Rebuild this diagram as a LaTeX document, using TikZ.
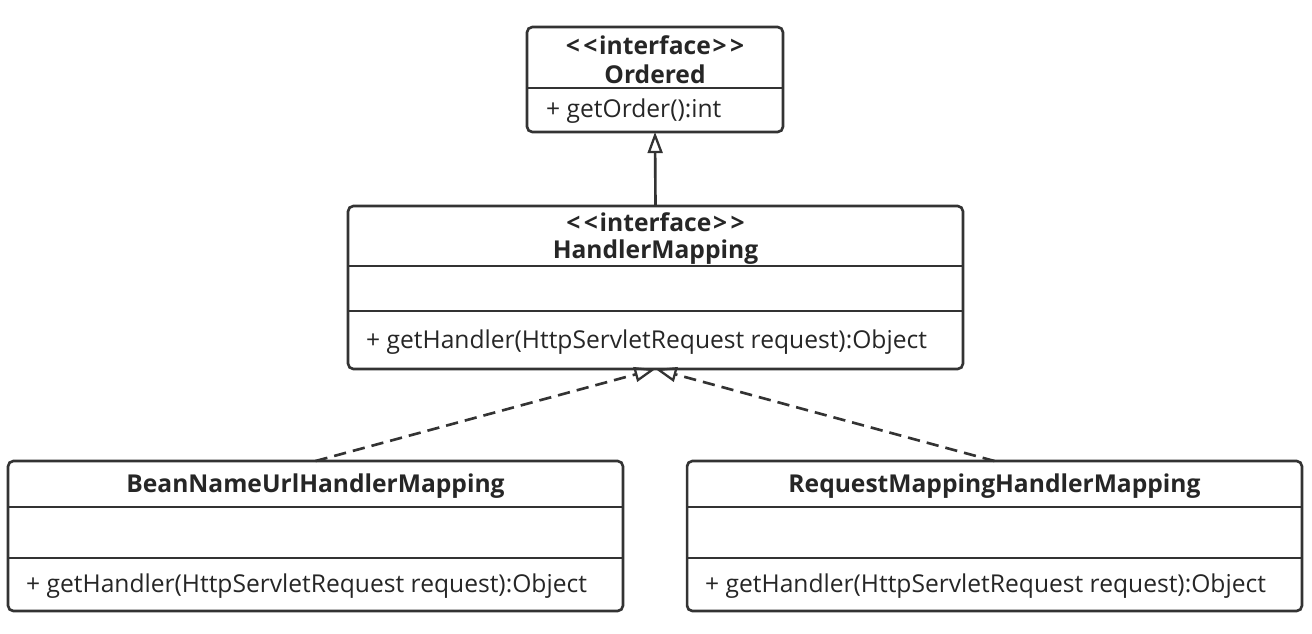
\documentclass[tikz,border=0pt]{standalone}
\usepackage{fontspec}
\setmainfont{Open Sans}
\usepackage{xcolor}
\usetikzlibrary{arrows.meta,calc}
\definecolor{edge}{HTML}{333333}
\definecolor{ink}{HTML}{262626}
\tikzset{
  cls/.style={draw=edge, line width=1.5pt, rounded corners=3pt, inner sep=0pt, outer sep=0pt, fill=white},
  sep/.style={draw=edge, line width=1.5pt},
  extends/.style={draw=edge, line width=1.5pt, -{Triangle[open, length=12pt, width=8.5pt, line width=1.3pt]}},
  realizes/.style={extends, dash pattern=on 7pt off 4pt},
  ttl/.style={text=ink, font=\fontsize{14}{17}\selectfont\bfseries},
  mth/.style={text=ink, font=\fontsize{14}{17}\selectfont, anchor=west}
}
\begin{document}
\begin{tikzpicture}[x=0.02cm, y=-0.02cm]
  \useasboundingbox (0,0) rectangle (1312,633);

  % class boxes
  \node[cls, minimum width=5.12cm, minimum height=2.1cm] (ord) at (655,79.5) {};
  \node[cls, minimum width=12.3cm, minimum height=3.26cm] (hm) at (655.5,287.5) {};
  \node[cls, minimum width=12.3cm, minimum height=3.0cm] (bean) at (315.5,536) {};
  \node[cls, minimum width=12.3cm, minimum height=3.0cm] (req) at (994.5,536) {};

  % compartments
  \draw[sep] (ord.west |- 0,88) -- (ord.east |- 0,88);
  \draw[sep] (hm.west |- 0,266) -- (hm.east |- 0,266);
  \draw[sep] (hm.west |- 0,311) -- (hm.east |- 0,311);
  \draw[sep] (bean.west |- 0,507) -- (bean.east |- 0,507);
  \draw[sep] (bean.west |- 0,558) -- (bean.east |- 0,558);
  \draw[sep] (req.west |- 0,507) -- (req.east |- 0,507);
  \draw[sep] (req.west |- 0,558) -- (req.east |- 0,558);

  % texts
  \node[ttl] (ordst) at (655,45) {<\kern2pt<\kern1pt interface\kern1pt>\kern2pt>};
  \node[ttl] (ordnm) at (655,74) {Ordered};
  \node[mth] (ordm) at (540,111) {+ getOrder():int};

  \node[ttl] (hmst) at (655.5,222) {<\kern2pt<\kern1pt interface\kern1pt>\kern2pt>};
  \node[ttl] (hmnm) at (655.5,252) {HandlerMapping};
  \node[mth] (hmm) at (360,342) {+ getHandler(HttpServletRequest request):Object};

  \node[ttl] (beannm) at (315.5,486) {BeanNameUrlHandlerMapping};
  \node[mth] (beanm) at (20,586) {+ getHandler(HttpServletRequest request):Object};

  \node[ttl] (reqnm) at (994.5,486) {RequestMappingHandlerMapping};
  \node[mth] (reqm) at (699,586) {+ getHandler(HttpServletRequest request):Object};

  % relations
  \draw[extends] (hm.north) -- (ord.south);
  \draw[realizes] (bean.north) -- (hm.south);
  \draw[realizes] (req.north) -- (hm.south);
\end{tikzpicture}
\end{document}
